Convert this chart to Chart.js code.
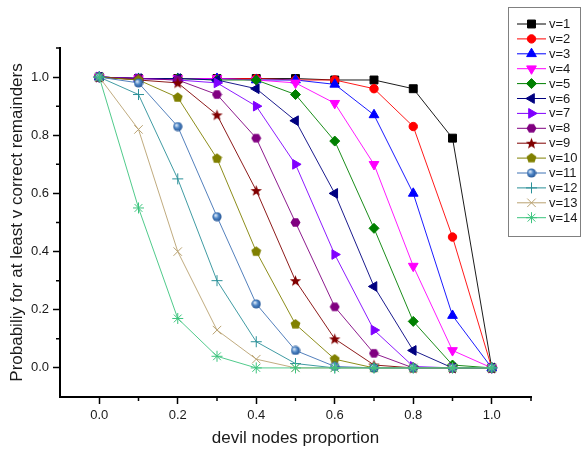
<!DOCTYPE html>
<html>
<head>
<meta charset="utf-8">
<script src="https://cdn.jsdelivr.net/npm/chart.js@4/dist/chart.umd.min.js"></script>
<style>
  html, body { margin: 0; padding: 0; background: #fff; }
  #wrap { width: 582px; height: 449px; position: relative; }
</style>
</head>
<body>
<div id="wrap"><canvas id="probChart" width="582" height="449"></canvas></div>
<script>
// devil nodes proportion (x)
const proportions = [0.0, 0.1, 0.2, 0.3, 0.4, 0.5, 0.6, 0.7, 0.8, 0.9, 1.0];

// probability for at least v correct remainders, one array per v
const v1  = [1, 0.995, 0.995, 0.995, 0.995, 0.995, 0.99, 0.99, 0.96, 0.79, 0];
const v2  = [1, 0.995, 0.995, 0.995, 0.995, 0.99, 0.99, 0.96, 0.83, 0.45, 0];
const v3  = [1, 0.995, 0.995, 0.995, 0.99, 0.99, 0.975, 0.87, 0.60, 0.18, 0];
const v4  = [1, 0.995, 0.995, 0.995, 0.99, 0.98, 0.91, 0.70, 0.35, 0.06, 0];
const v5  = [1, 0.995, 0.995, 0.99, 0.99, 0.94, 0.78, 0.48, 0.16, 0.01, 0];
const v6  = [1, 0.995, 0.995, 0.99, 0.96, 0.85, 0.60, 0.28, 0.06, 0, 0];
const v7  = [1, 0.995, 0.99, 0.98, 0.90, 0.70, 0.39, 0.13, 0.005, 0, 0];
const v8  = [1, 0.995, 0.99, 0.94, 0.79, 0.50, 0.21, 0.05, 0, 0, 0];
const v9  = [1, 0.99, 0.98, 0.87, 0.61, 0.30, 0.10, 0.01, 0, 0, 0];
const v10 = [1, 0.99, 0.93, 0.72, 0.40, 0.15, 0.03, 0, 0, 0, 0];
const v11 = [1, 0.98, 0.83, 0.52, 0.22, 0.06, 0.005, 0, 0, 0, 0];
const v12 = [1, 0.94, 0.65, 0.30, 0.09, 0.015, 0, 0, 0, 0, 0];
const v13 = [1, 0.82, 0.40, 0.13, 0.03, 0, 0, 0, 0, 0, 0];
const v14 = [1, 0.55, 0.17, 0.04, 0, 0, 0, 0, 0, 0, 0];

const seriesLabels = ['v=1', 'v=2', 'v=3', 'v=4', 'v=5', 'v=6', 'v=7',
                      'v=8', 'v=9', 'v=10', 'v=11', 'v=12', 'v=13', 'v=14'];
const seriesValues = [v1, v2, v3, v4, v5, v6, v7, v8, v9, v10, v11, v12, v13, v14];

const FONT = "'Liberation Sans', Arial, sans-serif";

// small canvases for the marker shapes chart.js doesn't have
function makeMarker(size, draw) {
    const c = document.createElement('canvas');
    c.width = size; c.height = size;
    draw(c.getContext('2d'), size / 2);
    return c;
}
function polygon(ctx, c, r, n, startAngle) {
    ctx.beginPath();
    for (let i = 0; i < n; i++) {
        const a = startAngle + i * 2 * Math.PI / n;
        const px = c + r * Math.cos(a), py = c + r * Math.sin(a);
        if (i === 0) ctx.moveTo(px, py); else ctx.lineTo(px, py);
    }
    ctx.closePath();
}
const hexagon = makeMarker(11, (ctx, c) => {
    polygon(ctx, c, 5, 6, 0);
    ctx.fillStyle = '#800080'; ctx.fill();
});
const pentagon = makeMarker(11, (ctx, c) => {
    polygon(ctx, c, 5.2, 5, -Math.PI / 2);
    ctx.fillStyle = '#808000'; ctx.fill();
});
const star5 = makeMarker(13, (ctx, c) => {
    ctx.beginPath();
    for (let i = 0; i < 10; i++) {
        const r = i % 2 === 0 ? 6 : 2.5;
        const a = -Math.PI / 2 + i * Math.PI / 5;
        const px = c + r * Math.cos(a), py = c + 0.5 + r * Math.sin(a);
        if (i === 0) ctx.moveTo(px, py); else ctx.lineTo(px, py);
    }
    ctx.closePath();
    ctx.fillStyle = '#800000'; ctx.fill();
});
const sphere = makeMarker(10, (ctx, c) => {
    const g = ctx.createRadialGradient(c - 1.5, c - 1.5, 0.5, c, c, 5);
    g.addColorStop(0, '#d8e6f6');
    g.addColorStop(0.45, '#4f86c6');
    g.addColorStop(1, '#1f4f8f');
    ctx.beginPath(); ctx.arc(c, c, 4.6, 0, 2 * Math.PI);
    ctx.fillStyle = g; ctx.fill();
});

const colors = ['#000000', '#ff0000', '#0000ff', '#ff00ff', '#008000', '#000080', '#8000ff',
                '#800080', '#800000', '#808000', '#3f72b4', '#2a9098', '#b9a271', '#3cc47e'];
const styles = [
    { s: 'rect', r: 5.6, rot: 0 },
    { s: 'circle', r: 4.2, rot: 0 },
    { s: 'triangle', r: 5.6, rot: 0 },
    { s: 'triangle', r: 5.6, rot: 180 },
    { s: 'rectRot', r: 5, rot: 0 },
    { s: 'triangle', r: 5.6, rot: 270 },
    { s: 'triangle', r: 5.6, rot: 90 },
    { s: hexagon, r: 5, rot: 0 },
    { s: star5, r: 5, rot: 0 },
    { s: pentagon, r: 5, rot: 0 },
    { s: sphere, r: 5, rot: 0 },
    { s: 'cross', r: 5.5, rot: 0 },
    { s: 'crossRot', r: 6, rot: 0 },
    { s: 'star', r: 5.5, rot: 0 }
];

const datasets = seriesValues.map((vals, i) => ({
    label: seriesLabels[i],
    data: vals.map((y, j) => ({ x: proportions[j], y: y })),
    borderColor: colors[i],
    backgroundColor: colors[i],
    borderWidth: 0.9,
    pointStyle: styles[i].s,
    pointRadius: styles[i].r,
    pointRotation: styles[i].rot,
    pointBackgroundColor: colors[i],
    pointBorderColor: colors[i],
    pointBorderWidth: 1,
    tension: 0,
    order: seriesValues.length - 1 - i  // later v drawn on top, like the original
}));

const isMajor = (v) => {
    const r = Math.round(v * 10);
    return r % 2 === 0 && r >= 0 && r <= 10;
};

// short minor ticks + the boxed legend in the top right
const extrasPlugin = {
    id: 'extras',
    afterDraw(chart) {
        const ctx = chart.ctx;
        const xs = chart.scales.x, ys = chart.scales.y;
        ctx.save();
        ctx.strokeStyle = '#000';
        ctx.lineWidth = 1.5;
        ctx.beginPath();
        for (let k = 1; k <= 11; k += 2) {
            const v = k / 10;
            const px = xs.getPixelForValue(v);
            ctx.moveTo(px, xs.top); ctx.lineTo(px, xs.top + 4);
            const py = ys.getPixelForValue(v);
            ctx.moveTo(ys.right, py); ctx.lineTo(ys.right - 4, py);
        }
        ctx.stroke();

        // legend
        const bx = 508.5, by = 7.5, bw = 72, bh = 229;
        ctx.fillStyle = '#fff';
        ctx.fillRect(bx, by, bw, bh);
        ctx.strokeStyle = '#808080';
        ctx.lineWidth = 1;
        ctx.strokeRect(bx, by, bw, bh);
        ctx.font = '13px ' + FONT;
        ctx.textBaseline = 'middle';
        ctx.textAlign = 'left';
        chart.data.datasets.forEach((ds, i) => {
            const cy = 24 + i * 14.9;
            ctx.strokeStyle = ds.borderColor;
            ctx.lineWidth = 1;
            ctx.beginPath();
            ctx.moveTo(517, cy); ctx.lineTo(546, cy);
            ctx.stroke();
            ctx.fillStyle = ds.pointBackgroundColor;
            ctx.strokeStyle = ds.pointBorderColor;
            if (Chart.helpers && Chart.helpers.drawPoint) {
                Chart.helpers.drawPoint(ctx, {
                    pointStyle: ds.pointStyle,
                    rotation: ds.pointRotation,
                    radius: ds.pointRadius,
                    borderWidth: 1
                }, 531.5, cy);
            }
            ctx.fillStyle = '#1a1a1a';
            ctx.fillText(ds.label, 549, cy + 0.5);
        });
        ctx.restore();
    }
};

const ctx = document.getElementById('probChart').getContext('2d');
new Chart(ctx, {
    type: 'line',
    data: { datasets: datasets },
    options: {
        responsive: false,
        animation: false,
        events: [],
        layout: { padding: { left: 0, top: 48, right: 51, bottom: 0 } },
        plugins: {
            legend: { display: false },
            tooltip: { enabled: false }
        },
        scales: {
            x: {
                type: 'linear',
                min: -0.1,
                max: 1.1,
                afterFit: (scale) => { scale.height = 52; },
                border: { display: true, color: '#000', width: 2 },
                grid: {
                    drawOnChartArea: false,
                    drawTicks: true,
                    tickLength: 7,
                    tickWidth: 1.5,
                    tickColor: (c) => (c.tick && isMajor(c.tick.value) ? '#000' : 'rgba(0,0,0,0)')
                },
                ticks: {
                    stepSize: 0.1,
                    autoSkip: false,
                    maxRotation: 0,
                    padding: 4,
                    color: '#1a1a1a',
                    font: { family: FONT, size: 13 },
                    callback: (v) => (isMajor(v) ? (Math.round(v * 10) / 10).toFixed(1) : '')
                },
                title: {
                    display: true,
                    text: 'devil nodes proportion',
                    color: '#1a1a1a',
                    font: { family: FONT, size: 17 },
                    padding: { top: 0, bottom: 0 }
                }
            },
            y: {
                type: 'linear',
                min: -0.1,
                max: 1.1,
                afterFit: (scale) => { scale.width = 60; },
                border: { display: true, color: '#000', width: 2 },
                grid: {
                    drawOnChartArea: false,
                    drawTicks: true,
                    tickLength: 7,
                    tickWidth: 1.5,
                    tickColor: (c) => (c.tick && isMajor(c.tick.value) ? '#000' : 'rgba(0,0,0,0)')
                },
                ticks: {
                    stepSize: 0.1,
                    autoSkip: false,
                    padding: 4,
                    color: '#1a1a1a',
                    font: { family: FONT, size: 13 },
                    callback: (v) => (isMajor(v) ? (Math.round(v * 10) / 10).toFixed(1) : '')
                },
                title: {
                    display: true,
                    text: 'Probabiliy for at least v correct remainders',
                    color: '#1a1a1a',
                    font: { family: FONT, size: 17 },
                    padding: { top: 7, bottom: 0 }
                }
            }
        }
    },
    plugins: [extrasPlugin]
});
</script>
</body>
</html>
